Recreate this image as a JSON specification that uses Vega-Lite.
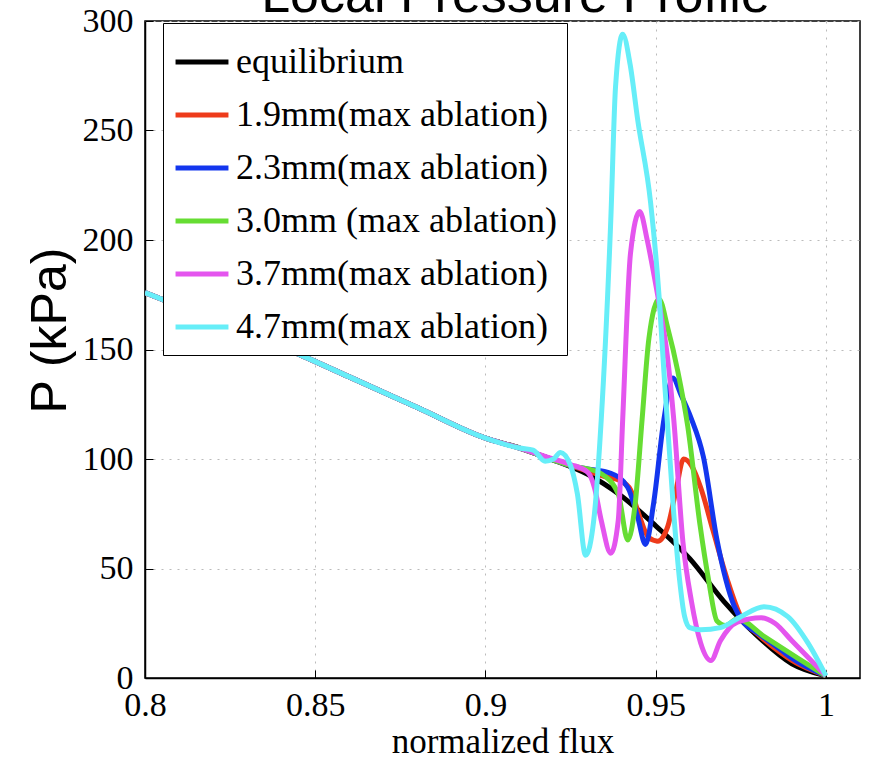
{
  "$schema": "https://vega.github.io/schema/vega-lite/v6.json",
  "width": 715,
  "height": 657,
  "autosize": "none",
  "padding": {"left": 145, "top": 21, "right": 9, "bottom": 79},
  "background": "white",
  "title": {"text": "Local Pressure Profile", "font": "Liberation Sans", "fontSize": 52, "fontWeight": "normal", "color": "black", "baseline": "alphabetic", "offset": -60, "dx": 13},
  "config": {
    "view": {"stroke": "black", "strokeWidth": 1.5},
    "axis": {"gridColor": "#bbbbbb", "gridDash": [2, 6], "gridWidth": 1, "domainColor": "black", "domainWidth": 1.5, "tickColor": "black", "labelColor": "black", "titleColor": "black", "labelFont": "Liberation Serif", "labelFontSize": 34}
  },
  "data": {"values": [
    {"s": "equilibrium", "x": 0.80, "p": 176}, {"s": "equilibrium", "x": 0.82, "p": 163.7}, {"s": "equilibrium", "x": 0.84, "p": 151.3}, {"s": "equilibrium", "x": 0.86, "p": 137.5}, {"s": "equilibrium", "x": 0.88, "p": 123.5}, {"s": "equilibrium", "x": 0.90, "p": 109.5}, {"s": "equilibrium", "x": 0.91, "p": 105}, {"s": "equilibrium", "x": 0.92, "p": 99.5}, {"s": "equilibrium", "x": 0.93, "p": 93}, {"s": "equilibrium", "x": 0.94, "p": 83}, {"s": "equilibrium", "x": 0.95, "p": 69.5}, {"s": "equilibrium", "x": 0.96, "p": 54.5}, {"s": "equilibrium", "x": 0.97, "p": 35}, {"s": "equilibrium", "x": 0.98, "p": 19}, {"s": "equilibrium", "x": 0.99, "p": 6.5}, {"s": "equilibrium", "x": 1.0, "p": 1},

    {"s": "1.9mm(max ablation)", "x": 0.80, "p": 176}, {"s": "1.9mm(max ablation)", "x": 0.82, "p": 163.7}, {"s": "1.9mm(max ablation)", "x": 0.84, "p": 151.3}, {"s": "1.9mm(max ablation)", "x": 0.86, "p": 137.5}, {"s": "1.9mm(max ablation)", "x": 0.88, "p": 123.5}, {"s": "1.9mm(max ablation)", "x": 0.90, "p": 109.5}, {"s": "1.9mm(max ablation)", "x": 0.91, "p": 105}, {"s": "1.9mm(max ablation)", "x": 0.92, "p": 99.5}, {"s": "1.9mm(max ablation)", "x": 0.925, "p": 97}, {"s": "1.9mm(max ablation)", "x": 0.93, "p": 94.5}, {"s": "1.9mm(max ablation)", "x": 0.935, "p": 92}, {"s": "1.9mm(max ablation)", "x": 0.9397, "p": 90}, {"s": "1.9mm(max ablation)", "x": 0.9426, "p": 86}, {"s": "1.9mm(max ablation)", "x": 0.945, "p": 75}, {"s": "1.9mm(max ablation)", "x": 0.948, "p": 64}, {"s": "1.9mm(max ablation)", "x": 0.9506, "p": 62.5}, {"s": "1.9mm(max ablation)", "x": 0.9535, "p": 69}, {"s": "1.9mm(max ablation)", "x": 0.956, "p": 86}, {"s": "1.9mm(max ablation)", "x": 0.9582, "p": 100}, {"s": "1.9mm(max ablation)", "x": 0.9605, "p": 97}, {"s": "1.9mm(max ablation)", "x": 0.9632, "p": 87}, {"s": "1.9mm(max ablation)", "x": 0.9668, "p": 67.5}, {"s": "1.9mm(max ablation)", "x": 0.971, "p": 45}, {"s": "1.9mm(max ablation)", "x": 0.975, "p": 28}, {"s": "1.9mm(max ablation)", "x": 0.98, "p": 20}, {"s": "1.9mm(max ablation)", "x": 0.9868, "p": 11.4}, {"s": "1.9mm(max ablation)", "x": 0.99, "p": 8}, {"s": "1.9mm(max ablation)", "x": 1.0, "p": 1},

    {"s": "2.3mm(max ablation)", "x": 0.80, "p": 176}, {"s": "2.3mm(max ablation)", "x": 0.82, "p": 163.7}, {"s": "2.3mm(max ablation)", "x": 0.84, "p": 151.3}, {"s": "2.3mm(max ablation)", "x": 0.86, "p": 137.5}, {"s": "2.3mm(max ablation)", "x": 0.88, "p": 123.5}, {"s": "2.3mm(max ablation)", "x": 0.90, "p": 109.5}, {"s": "2.3mm(max ablation)", "x": 0.91, "p": 105}, {"s": "2.3mm(max ablation)", "x": 0.92, "p": 99.5}, {"s": "2.3mm(max ablation)", "x": 0.925, "p": 97}, {"s": "2.3mm(max ablation)", "x": 0.93, "p": 95.5}, {"s": "2.3mm(max ablation)", "x": 0.9368, "p": 93.5}, {"s": "2.3mm(max ablation)", "x": 0.9418, "p": 87}, {"s": "2.3mm(max ablation)", "x": 0.9447, "p": 73.5}, {"s": "2.3mm(max ablation)", "x": 0.947, "p": 61}, {"s": "2.3mm(max ablation)", "x": 0.9494, "p": 80}, {"s": "2.3mm(max ablation)", "x": 0.9524, "p": 118}, {"s": "2.3mm(max ablation)", "x": 0.955, "p": 137}, {"s": "2.3mm(max ablation)", "x": 0.9575, "p": 129}, {"s": "2.3mm(max ablation)", "x": 0.9603, "p": 119}, {"s": "2.3mm(max ablation)", "x": 0.964, "p": 101}, {"s": "2.3mm(max ablation)", "x": 0.968, "p": 63}, {"s": "2.3mm(max ablation)", "x": 0.973, "p": 33}, {"s": "2.3mm(max ablation)", "x": 0.976, "p": 25}, {"s": "2.3mm(max ablation)", "x": 0.98, "p": 20.5}, {"s": "2.3mm(max ablation)", "x": 0.9868, "p": 12.8}, {"s": "2.3mm(max ablation)", "x": 0.99, "p": 9}, {"s": "2.3mm(max ablation)", "x": 1.0, "p": 1},

    {"s": "3.0mm (max ablation)", "x": 0.80, "p": 176}, {"s": "3.0mm (max ablation)", "x": 0.82, "p": 163.7}, {"s": "3.0mm (max ablation)", "x": 0.84, "p": 151.3}, {"s": "3.0mm (max ablation)", "x": 0.86, "p": 137.5}, {"s": "3.0mm (max ablation)", "x": 0.88, "p": 123.5}, {"s": "3.0mm (max ablation)", "x": 0.90, "p": 109.5}, {"s": "3.0mm (max ablation)", "x": 0.91, "p": 105}, {"s": "3.0mm (max ablation)", "x": 0.92, "p": 99.5}, {"s": "3.0mm (max ablation)", "x": 0.925, "p": 97}, {"s": "3.0mm (max ablation)", "x": 0.93, "p": 95.5}, {"s": "3.0mm (max ablation)", "x": 0.9338, "p": 93.5}, {"s": "3.0mm (max ablation)", "x": 0.939, "p": 84}, {"s": "3.0mm (max ablation)", "x": 0.9418, "p": 63}, {"s": "3.0mm (max ablation)", "x": 0.944, "p": 80}, {"s": "3.0mm (max ablation)", "x": 0.946, "p": 118}, {"s": "3.0mm (max ablation)", "x": 0.948, "p": 155}, {"s": "3.0mm (max ablation)", "x": 0.951, "p": 173}, {"s": "3.0mm (max ablation)", "x": 0.9535, "p": 160}, {"s": "3.0mm (max ablation)", "x": 0.9565, "p": 140}, {"s": "3.0mm (max ablation)", "x": 0.9594, "p": 115}, {"s": "3.0mm (max ablation)", "x": 0.963, "p": 70}, {"s": "3.0mm (max ablation)", "x": 0.9655, "p": 45}, {"s": "3.0mm (max ablation)", "x": 0.968, "p": 26}, {"s": "3.0mm (max ablation)", "x": 0.9705, "p": 24}, {"s": "3.0mm (max ablation)", "x": 0.974, "p": 27}, {"s": "3.0mm (max ablation)", "x": 0.9818, "p": 19}, {"s": "3.0mm (max ablation)", "x": 0.9918, "p": 9}, {"s": "3.0mm (max ablation)", "x": 1.0, "p": 1},

    {"s": "3.7mm(max ablation)", "x": 0.80, "p": 176}, {"s": "3.7mm(max ablation)", "x": 0.82, "p": 163.7}, {"s": "3.7mm(max ablation)", "x": 0.84, "p": 151.3}, {"s": "3.7mm(max ablation)", "x": 0.86, "p": 137.5}, {"s": "3.7mm(max ablation)", "x": 0.88, "p": 123.5}, {"s": "3.7mm(max ablation)", "x": 0.90, "p": 109.5}, {"s": "3.7mm(max ablation)", "x": 0.91, "p": 105}, {"s": "3.7mm(max ablation)", "x": 0.92, "p": 100}, {"s": "3.7mm(max ablation)", "x": 0.925, "p": 97.5}, {"s": "3.7mm(max ablation)", "x": 0.93, "p": 94}, {"s": "3.7mm(max ablation)", "x": 0.932, "p": 87}, {"s": "3.7mm(max ablation)", "x": 0.934, "p": 72}, {"s": "3.7mm(max ablation)", "x": 0.9368, "p": 57}, {"s": "3.7mm(max ablation)", "x": 0.939, "p": 72}, {"s": "3.7mm(max ablation)", "x": 0.9403, "p": 118}, {"s": "3.7mm(max ablation)", "x": 0.9426, "p": 194}, {"s": "3.7mm(max ablation)", "x": 0.9453, "p": 213}, {"s": "3.7mm(max ablation)", "x": 0.9475, "p": 200}, {"s": "3.7mm(max ablation)", "x": 0.9495, "p": 184}, {"s": "3.7mm(max ablation)", "x": 0.951, "p": 171}, {"s": "3.7mm(max ablation)", "x": 0.9535, "p": 146}, {"s": "3.7mm(max ablation)", "x": 0.9553, "p": 118}, {"s": "3.7mm(max ablation)", "x": 0.958, "p": 62}, {"s": "3.7mm(max ablation)", "x": 0.9605, "p": 35}, {"s": "3.7mm(max ablation)", "x": 0.9632, "p": 16}, {"s": "3.7mm(max ablation)", "x": 0.9662, "p": 8}, {"s": "3.7mm(max ablation)", "x": 0.969, "p": 17}, {"s": "3.7mm(max ablation)", "x": 0.974, "p": 25.5}, {"s": "3.7mm(max ablation)", "x": 0.981, "p": 27.5}, {"s": "3.7mm(max ablation)", "x": 0.985, "p": 25}, {"s": "3.7mm(max ablation)", "x": 0.99, "p": 17}, {"s": "3.7mm(max ablation)", "x": 1.0, "p": 1},

    {"s": "4.7mm(max ablation)", "x": 0.80, "p": 176}, {"s": "4.7mm(max ablation)", "x": 0.82, "p": 163.7}, {"s": "4.7mm(max ablation)", "x": 0.84, "p": 151.3}, {"s": "4.7mm(max ablation)", "x": 0.86, "p": 137.5}, {"s": "4.7mm(max ablation)", "x": 0.88, "p": 123.5}, {"s": "4.7mm(max ablation)", "x": 0.90, "p": 109.5}, {"s": "4.7mm(max ablation)", "x": 0.91, "p": 105}, {"s": "4.7mm(max ablation)", "x": 0.914, "p": 104}, {"s": "4.7mm(max ablation)", "x": 0.9175, "p": 99}, {"s": "4.7mm(max ablation)", "x": 0.92, "p": 100}, {"s": "4.7mm(max ablation)", "x": 0.922, "p": 103}, {"s": "4.7mm(max ablation)", "x": 0.925, "p": 97}, {"s": "4.7mm(max ablation)", "x": 0.927, "p": 84}, {"s": "4.7mm(max ablation)", "x": 0.9294, "p": 56}, {"s": "4.7mm(max ablation)", "x": 0.9318, "p": 72}, {"s": "4.7mm(max ablation)", "x": 0.934, "p": 118}, {"s": "4.7mm(max ablation)", "x": 0.9368, "p": 209}, {"s": "4.7mm(max ablation)", "x": 0.9382, "p": 270}, {"s": "4.7mm(max ablation)", "x": 0.9403, "p": 294}, {"s": "4.7mm(max ablation)", "x": 0.9425, "p": 280}, {"s": "4.7mm(max ablation)", "x": 0.9447, "p": 255}, {"s": "4.7mm(max ablation)", "x": 0.9485, "p": 217}, {"s": "4.7mm(max ablation)", "x": 0.951, "p": 174}, {"s": "4.7mm(max ablation)", "x": 0.9524, "p": 140}, {"s": "4.7mm(max ablation)", "x": 0.9553, "p": 75}, {"s": "4.7mm(max ablation)", "x": 0.957, "p": 45}, {"s": "4.7mm(max ablation)", "x": 0.9585, "p": 28}, {"s": "4.7mm(max ablation)", "x": 0.96, "p": 23}, {"s": "4.7mm(max ablation)", "x": 0.9632, "p": 22}, {"s": "4.7mm(max ablation)", "x": 0.969, "p": 23}, {"s": "4.7mm(max ablation)", "x": 0.975, "p": 28}, {"s": "4.7mm(max ablation)", "x": 0.9818, "p": 32.5}, {"s": "4.7mm(max ablation)", "x": 0.9888, "p": 28}, {"s": "4.7mm(max ablation)", "x": 0.9947, "p": 16}, {"s": "4.7mm(max ablation)", "x": 1.0, "p": 1}
  ]},
  "mark": {"type": "line", "interpolate": "monotone", "strokeWidth": 5, "clip": true},
  "encoding": {
    "x": {"field": "x", "type": "quantitative", "scale": {"domain": [0.8, 1.01], "nice": false},
      "axis": {"values": [0.8, 0.85, 0.9, 0.95, 1], "labelExpr": "datum.value == 1 ? '1' : format(datum.value, '.2~f')", "tickSize": -8, "labelPadding": 18, "labelFlush": false,
        "title": "normalized flux", "titleFont": "Liberation Serif", "titleFontSize": 35, "titleFontWeight": "normal", "titleY": 46, "titleBaseline": "top"}},
    "y": {"field": "p", "type": "quantitative", "scale": {"domain": [0, 300], "nice": false},
      "axis": {"values": [0, 50, 100, 150, 200, 250, 300], "tickSize": -8, "labelPadding": 20,
        "title": "P (kPa)", "titleFont": "Liberation Sans", "titleFontSize": 50, "titleFontWeight": "normal", "titleX": -70, "titleY": 309, "titleBaseline": "bottom", "titleAngle": -90}},
    "color": {"field": "s", "type": "nominal",
      "scale": {"domain": ["equilibrium", "1.9mm(max ablation)", "2.3mm(max ablation)", "3.0mm (max ablation)", "3.7mm(max ablation)", "4.7mm(max ablation)"],
        "range": ["#000000", "#ee3b1b", "#1336ee", "#66dd33", "#e455ee", "#66eef8"]},
      "legend": {"title": null, "orient": "none", "legendX": 18, "legendY": 2, "fillColor": "white", "strokeColor": "black", "padding": 10,
        "symbolType": "stroke", "symbolSize": 2800, "symbolStrokeWidth": 5, "labelFont": "Liberation Serif", "labelFontSize": 36, "labelColor": "black", "labelOffset": 5, "rowPadding": 6, "labelLimit": 500}}
  }
}
